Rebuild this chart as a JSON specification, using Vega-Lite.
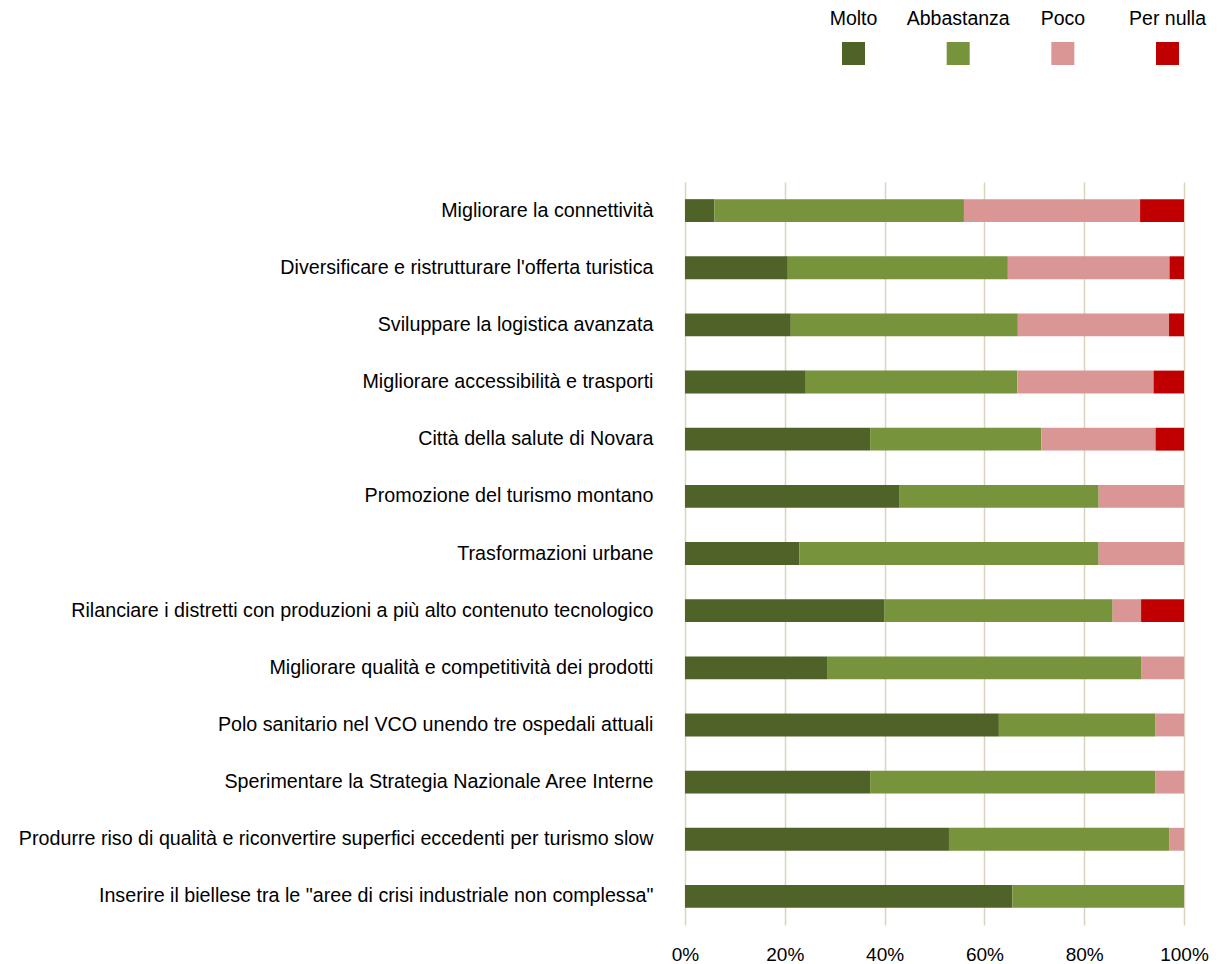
{
  "$schema": "https://vega.github.io/schema/vega-lite/v6.json",
  "padding": {"left": 18, "top": 0, "right": 0, "bottom": 0},
  "background": "white",
  "bounds": "flush",
  "config": {"view": {"stroke": null}, "font": "Liberation Sans"},
  "datasets": {
    "d": [
      {"c": "Migliorare la connettività", "r": "Molto", "k": 1, "v": 5.9},
      {"c": "Migliorare la connettività", "r": "Abbastanza", "k": 2, "v": 50.0},
      {"c": "Migliorare la connettività", "r": "Poco", "k": 3, "v": 35.3},
      {"c": "Migliorare la connettività", "r": "Per nulla", "k": 4, "v": 8.8},
      {"c": "Diversificare e ristrutturare l'offerta turistica", "r": "Molto", "k": 1, "v": 20.6},
      {"c": "Diversificare e ristrutturare l'offerta turistica", "r": "Abbastanza", "k": 2, "v": 44.1},
      {"c": "Diversificare e ristrutturare l'offerta turistica", "r": "Poco", "k": 3, "v": 32.4},
      {"c": "Diversificare e ristrutturare l'offerta turistica", "r": "Per nulla", "k": 4, "v": 2.9},
      {"c": "Sviluppare la logistica avanzata", "r": "Molto", "k": 1, "v": 21.2},
      {"c": "Sviluppare la logistica avanzata", "r": "Abbastanza", "k": 2, "v": 45.5},
      {"c": "Sviluppare la logistica avanzata", "r": "Poco", "k": 3, "v": 30.3},
      {"c": "Sviluppare la logistica avanzata", "r": "Per nulla", "k": 4, "v": 3.0},
      {"c": "Migliorare accessibilità e trasporti", "r": "Molto", "k": 1, "v": 24.2},
      {"c": "Migliorare accessibilità e trasporti", "r": "Abbastanza", "k": 2, "v": 42.4},
      {"c": "Migliorare accessibilità e trasporti", "r": "Poco", "k": 3, "v": 27.3},
      {"c": "Migliorare accessibilità e trasporti", "r": "Per nulla", "k": 4, "v": 6.1},
      {"c": "Città della salute di Novara", "r": "Molto", "k": 1, "v": 37.1},
      {"c": "Città della salute di Novara", "r": "Abbastanza", "k": 2, "v": 34.3},
      {"c": "Città della salute di Novara", "r": "Poco", "k": 3, "v": 22.9},
      {"c": "Città della salute di Novara", "r": "Per nulla", "k": 4, "v": 5.7},
      {"c": "Promozione del turismo montano", "r": "Molto", "k": 1, "v": 42.9},
      {"c": "Promozione del turismo montano", "r": "Abbastanza", "k": 2, "v": 40.0},
      {"c": "Promozione del turismo montano", "r": "Poco", "k": 3, "v": 17.1},
      {"c": "Trasformazioni urbane", "r": "Molto", "k": 1, "v": 22.9},
      {"c": "Trasformazioni urbane", "r": "Abbastanza", "k": 2, "v": 60.0},
      {"c": "Trasformazioni urbane", "r": "Poco", "k": 3, "v": 17.1},
      {"c": "Rilanciare i distretti con produzioni a più alto contenuto tecnologico", "r": "Molto", "k": 1, "v": 40.0},
      {"c": "Rilanciare i distretti con produzioni a più alto contenuto tecnologico", "r": "Abbastanza", "k": 2, "v": 45.7},
      {"c": "Rilanciare i distretti con produzioni a più alto contenuto tecnologico", "r": "Poco", "k": 3, "v": 5.7},
      {"c": "Rilanciare i distretti con produzioni a più alto contenuto tecnologico", "r": "Per nulla", "k": 4, "v": 8.6},
      {"c": "Migliorare qualità e competitività dei prodotti", "r": "Molto", "k": 1, "v": 28.6},
      {"c": "Migliorare qualità e competitività dei prodotti", "r": "Abbastanza", "k": 2, "v": 62.9},
      {"c": "Migliorare qualità e competitività dei prodotti", "r": "Poco", "k": 3, "v": 8.5},
      {"c": "Polo sanitario nel VCO unendo tre ospedali attuali", "r": "Molto", "k": 1, "v": 62.9},
      {"c": "Polo sanitario nel VCO unendo tre ospedali attuali", "r": "Abbastanza", "k": 2, "v": 31.4},
      {"c": "Polo sanitario nel VCO unendo tre ospedali attuali", "r": "Poco", "k": 3, "v": 5.7},
      {"c": "Sperimentare la Strategia Nazionale Aree Interne", "r": "Molto", "k": 1, "v": 37.1},
      {"c": "Sperimentare la Strategia Nazionale Aree Interne", "r": "Abbastanza", "k": 2, "v": 57.2},
      {"c": "Sperimentare la Strategia Nazionale Aree Interne", "r": "Poco", "k": 3, "v": 5.7},
      {"c": "Produrre riso di qualità e riconvertire superfici eccedenti per turismo slow", "r": "Molto", "k": 1, "v": 52.9},
      {"c": "Produrre riso di qualità e riconvertire superfici eccedenti per turismo slow", "r": "Abbastanza", "k": 2, "v": 44.2},
      {"c": "Produrre riso di qualità e riconvertire superfici eccedenti per turismo slow", "r": "Poco", "k": 3, "v": 2.9},
      {"c": "Inserire il biellese tra le \"aree di crisi industriale non complessa\"", "r": "Molto", "k": 1, "v": 65.6},
      {"c": "Inserire il biellese tra le \"aree di crisi industriale non complessa\"", "r": "Abbastanza", "k": 2, "v": 34.4}
    ],
    "leg": [
      {"r": "Molto"}, {"r": "Abbastanza"}, {"r": "Poco"}, {"r": "Per nulla"}
    ]
  },
  "resolve": {"scale": {"x": "independent", "y": "independent"}},
  "spacing": 75,
  "vconcat": [
    {
      "width": 628,
      "height": 107,
      "data": {"name": "leg"},
      "encoding": {
        "x": {"field": "r", "type": "nominal", "sort": null, "axis": null,
              "scale": {"type": "band", "paddingInner": 0, "paddingOuter": 1, "align": 0.555}},
        "color": {"field": "r", "type": "nominal", "legend": null,
                  "scale": {"domain": ["Molto", "Abbastanza", "Poco", "Per nulla"],
                            "range": ["#4f6228", "#77933c", "#d99694", "#c00000"]}}
      },
      "layer": [
        {"mark": {"type": "point", "shape": "square", "filled": true, "size": 529, "opacity": 1}},
        {"mark": {"type": "text", "dy": -35, "fontSize": 19.5, "baseline": "middle", "align": "center"},
         "encoding": {"text": {"field": "r"}, "color": {"value": "#000000"}}}
      ]
    },
    {
      "width": 499,
      "height": 743,
      "data": {"name": "d"},
      "mark": {"type": "bar"},
      "encoding": {
        "y": {"field": "c", "type": "nominal", "sort": null, "title": null,
              "scale": {"paddingInner": 0.6, "paddingOuter": 0.3},
              "axis": {"domain": false, "ticks": false, "labelFontSize": 19.7, "labelColor": "#000000",
                       "labelPadding": 32, "labelLimit": 1000}},
        "x": {"field": "v", "type": "quantitative", "stack": "zero", "title": null,
              "scale": {"domain": [0, 100], "nice": false},
              "axis": {"values": [0, 20, 40, 60, 80, 100], "labelExpr": "datum.value + '%'",
                       "domain": false, "ticks": false, "grid": true, "gridColor": "#d9d4bb", "gridWidth": 1.5,
                       "labelFontSize": 19, "labelColor": "#000000", "labelPadding": 20,
                       "labelFlush": false}},
        "color": {"field": "r", "type": "nominal", "legend": null,
                  "scale": {"domain": ["Molto", "Abbastanza", "Poco", "Per nulla"],
                            "range": ["#4f6228", "#77933c", "#d99694", "#c00000"]}},
        "order": {"field": "k", "type": "quantitative"}
      }
    }
  ]
}
